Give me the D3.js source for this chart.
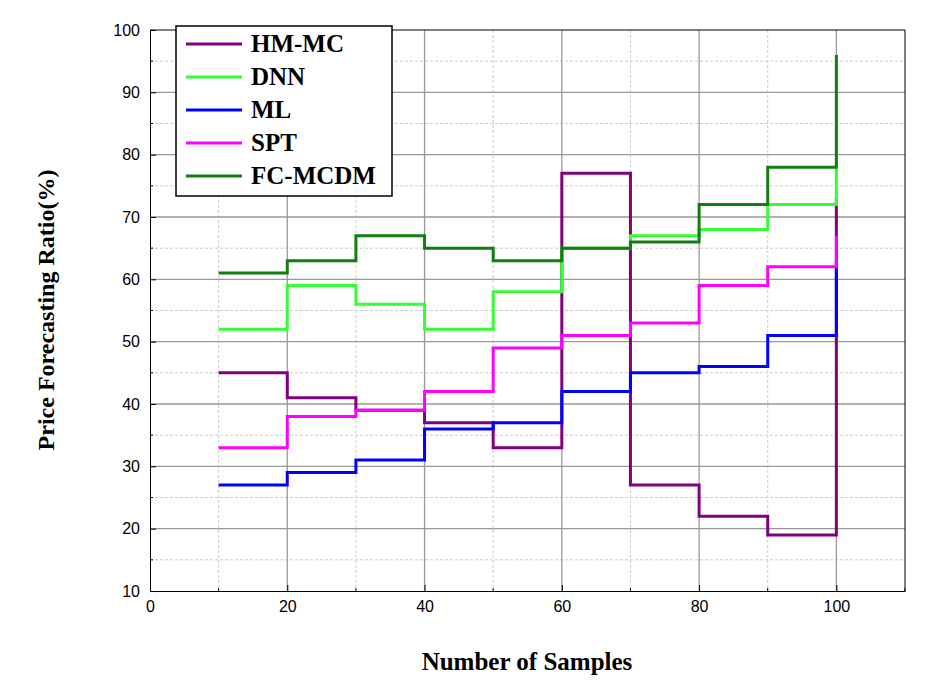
<!DOCTYPE html>
<html><head><meta charset="utf-8">
<script src="https://cdn.jsdelivr.net/npm/d3@7"></script>
<style>body{margin:0;background:#fff}</style>
</head><body>
<svg id="chart" width="939" height="685"></svg>
<script>
var samples = [10, 20, 30, 40, 50, 60, 70, 80, 90, 100];
var hmmc  = [45, 41, 39, 37, 33, 77, 27, 22, 19, 73];
var dnn   = [52, 59, 56, 52, 58, 65, 67, 68, 72, 79];
var ml    = [27, 29, 31, 36, 37, 42, 45, 46, 51, 63];
var spt   = [33, 38, 39, 42, 49, 51, 53, 59, 62, 67];
var fcmcdm = [61, 63, 67, 65, 63, 65, 66, 72, 78, 96];
var seriesNames = ["HM-MC", "DNN", "ML", "SPT", "FC-MCDM"];
var seriesColors = ["#800080", "#33ff33", "#0000ff", "#ff00ff", "#107f10"];
var seriesVals = [hmmc, dnn, ml, spt, fcmcdm];

var m = {left: 150, top: 30, right: 905, bot: 591};
var svg = d3.select("#chart");
var x = d3.scaleLinear().domain([0, 110]).range([m.left, m.right]);
var y = d3.scaleLinear().domain([10, 100]).range([m.bot, m.top]);

// grid
var g = svg.append("g");
d3.range(15, 100, 10).forEach(function(v){
  g.append("line").attr("x1", m.left).attr("x2", m.right).attr("y1", y(v)).attr("y2", y(v))
    .attr("stroke", "#ccc").attr("stroke-dasharray", "3,2");
});
d3.range(10, 110, 20).forEach(function(v){
  g.append("line").attr("y1", m.top).attr("y2", m.bot).attr("x1", x(v)).attr("x2", x(v))
    .attr("stroke", "#ccc").attr("stroke-dasharray", "3,2");
});
d3.range(20, 100, 10).forEach(function(v){
  g.append("line").attr("x1", m.left).attr("x2", m.right).attr("y1", y(v)).attr("y2", y(v))
    .attr("stroke", "#999").attr("stroke-width", 1.3);
});
d3.range(20, 110, 20).forEach(function(v){
  g.append("line").attr("y1", m.top).attr("y2", m.bot).attr("x1", x(v)).attr("x2", x(v))
    .attr("stroke", "#999").attr("stroke-width", 1.3);
});

// lines
var line = d3.line().x(function(d, i){ return x(samples[i]); }).y(function(d){ return y(d); })
  .curve(d3.curveStepAfter);
seriesVals.forEach(function(vals, k){
  svg.append("path").datum(vals).attr("d", line).attr("fill", "none")
    .attr("stroke", seriesColors[k]).attr("stroke-width", 3);
});

// axes
var font = "'Liberation Serif', 'Times New Roman', serif";
var xAxis = svg.append("g").attr("transform", "translate(0," + m.bot + ")")
  .call(d3.axisBottom(x).tickValues(d3.range(0, 110, 20)).tickSize(-6).tickSizeOuter(0).tickPadding(10));
xAxis.append("g").selectAll("line").data(d3.range(10, 120, 20)).enter().append("line")
  .attr("x1", x).attr("x2", x).attr("y1", 0).attr("y2", -3).attr("stroke", "#000");
var yAxis = svg.append("g").attr("transform", "translate(" + m.left + ",0)")
  .call(d3.axisLeft(y).tickValues(d3.range(10, 110, 10)).tickSize(-6).tickSizeOuter(0).tickPadding(10));
yAxis.append("g").selectAll("line").data(d3.range(15, 100, 10)).enter().append("line")
  .attr("y1", y).attr("y2", y).attr("x1", 0).attr("x2", 3).attr("stroke", "#000");
[xAxis, yAxis].forEach(function(a){
  a.selectAll("text").style("font-family", "Arial, 'Liberation Sans', sans-serif").style("font-size", "16px").attr("fill", "#000");
  a.select(".domain").attr("stroke", "#000");
});
svg.append("line").attr("x1", m.left).attr("x2", m.right).attr("y1", m.top).attr("y2", m.top).attr("stroke", "#000");
svg.append("line").attr("x1", m.right).attr("x2", m.right).attr("y1", m.top).attr("y2", m.bot).attr("stroke", "#000");

svg.append("text").attr("x", 527).attr("y", 670).attr("text-anchor", "middle")
  .style("font-family", font).style("font-weight", "bold").style("font-size", "25px").text("Number of Samples");
svg.append("text").attr("transform", "translate(54,310) rotate(-90)").attr("text-anchor", "middle")
  .style("font-family", font).style("font-weight", "bold").style("font-size", "24px").text("Price Forecasting Ratio(%)");

// legend
var lg = svg.append("g").attr("transform", "translate(176,26)");
lg.append("rect").attr("width", 216).attr("height", 170).attr("fill", "#fff").attr("stroke", "#000").attr("stroke-width", 1.5);
seriesNames.forEach(function(n, k){
  var yy = 18 + k * 33;
  lg.append("line").attr("x1", 10).attr("x2", 66).attr("y1", yy).attr("y2", yy)
    .attr("stroke", seriesColors[k]).attr("stroke-width", 3);
  lg.append("text").attr("x", 75).attr("y", yy + 8).text(n)
    .style("font-family", font).style("font-weight", "bold").style("font-size", "25px");
});
</script>
</body></html>
